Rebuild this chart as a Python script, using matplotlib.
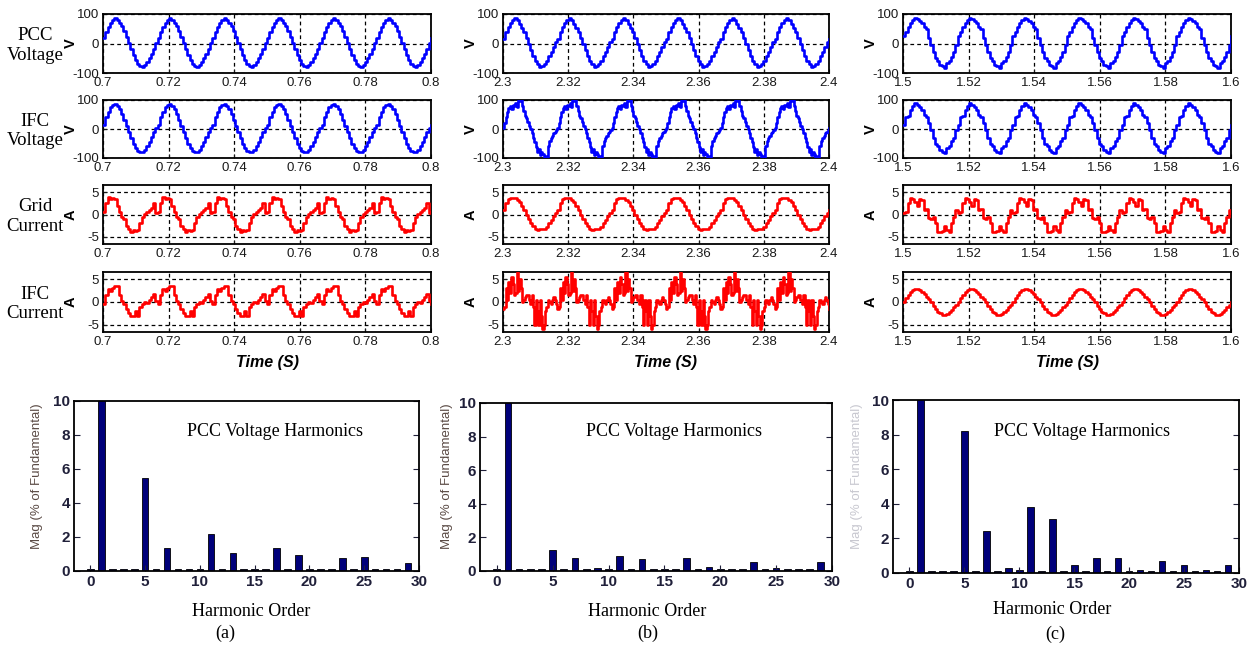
import numpy as np
import matplotlib
matplotlib.use('Agg')
import matplotlib.pyplot as plt

plt.rcParams['font.family'] = ['Liberation Sans', 'DejaVu Sans']
plt.rcParams['axes.unicode_minus'] = False

# ---- waveform data: one steady-state cycle per panel ----
t_start = [0.7, 2.3, 1.5]

pcc_v_a = [20, 38, 55, 68, 78, 85, 80, 70, 58, 42, 22, 2,
           -20, -38, -55, -68, -76, -78, -74, -62, -50, -35, -18, 2]
ifc_v_a = [15, 40, 60, 75, 82, 85, 80, 68, 52, 30, 10, -10,
           -30, -50, -65, -76, -80, -80, -72, -60, -45, -28, -10, 5]
grid_i_a = [0.5, 2.5, 4.0, 3.4, 3.6, 3.5, 2.0, 0.5, -0.5, -1.0, -2.5, -3.2,
            -4.0, -3.4, -3.8, -3.5, -2.0, -0.5, 0.2, 0.5, 1.0, 1.5, 2.5, 0.3]
ifc_i_a = [-0.5, 1.5, 2.8, 2.5, 3.0, 3.5, 3.5, 1.5, 0.2, -0.5, -1.5, -2.5,
           -3.0, -3.0, -2.0, -3.0, -1.2, -0.5, 0.0, -0.3, 0.5, 1.0, 1.8, 0.3]

pcc_v_b = [15, 38, 55, 70, 80, 85, 78, 65, 52, 38, 18, 0,
           -22, -42, -58, -70, -78, -75, -70, -58, -42, -28, -12, 5]
ifc_v_b = [5, 20, 40, 60, 72, 80, 70, 82, 78, 90, 75, 100, 95, 100, 80, 62, 45, 38, 25, 12,
           0, -15, -30, -45, -62, -78, -70, -88, -80, -85, -100, -92, -100, -60, -40, -30, -25, -15, -10, -3]
grid_i_b = [1.0, 2.5, 3.5, 3.7, 3.7, 3.6, 3.3, 2.8, 2.0, 1.0, 0.0, -1.0,
            -1.8, -2.6, -3.2, -3.4, -3.3, -3.3, -3.2, -2.8, -2.0, -1.2, -0.3, 0.3]
ifc_i_b = [-1.5, -1.0, 3.0, 0.5, 4.5, 2.0, 5.5, 4.0, 1.5, 2.0, 6.5, 2.5, 5.0, 3.0, 0.0, 0.5, 1.0, 1.5, 1.5, 0.5,
           -0.5, 1.5, -1.0, -5.0, 0.5, -2.0, -5.0, 0.5, -3.0, -6.0, -5.0, -2.0, -1.0, 0.5, 0.0, -0.5, 0.5, 1.0, 0.5, -0.5]

pcc_v_c = [25, 40, 55, 68, 80, 85, 82, 75, 68, 55, 48, 20,
           -5, -30, -50, -60, -72, -75, -82, -65, -58, -45, -30, -5]
ifc_v_c = [15, 40, 45, 65, 80, 88, 82, 75, 65, 50, 40, 20,
           -5, -30, -50, -60, -72, -80, -82, -65, -58, -40, -30, -5]
grid_i_c = [0.3, 0.5, 2.5, 3.8, 3.5, 2.8, 2.0, 3.5, 3.2, 1.0, 1.2, -0.8,
            -1.0, -0.5, -2.0, -4.0, -4.0, -3.8, -2.5, -3.5, -4.0, -2.0, -0.5, 1.0]
ifc_i_c = [0.0, 0.8, 1.5, 2.1, 2.6, 2.8, 2.9, 2.7, 2.3, 1.8, 1.2, 0.6,
           0.0, -0.8, -1.5, -2.1, -2.5, -2.8, -2.9, -2.7, -2.3, -1.8, -1.2, -0.6]

row_names = ['PCC\nVoltage', 'IFC\nVoltage', 'Grid\nCurrent', 'IFC\nCurrent']
row_units = ['V', 'V', 'A', 'A']

# ---- harmonic spectra (% of fundamental) ----
harm_order = list(range(30))
harm_a = [0.1, 100, 0.1, 0.1, 0.1, 5.45, 0.1, 1.35, 0.1, 0.1, 0.1, 2.2, 0.1, 1.05, 0.1,
          0.1, 0.1, 1.35, 0.1, 0.95, 0.1, 0.1, 0.1, 0.75, 0.1, 0.8, 0.1, 0.1, 0.1, 0.45]
harm_b = [0.1, 100, 0.1, 0.1, 0.1, 1.25, 0.1, 0.8, 0.1, 0.15, 0.1, 0.9, 0.1, 0.7, 0.1,
          0.1, 0.1, 0.8, 0.1, 0.25, 0.1, 0.1, 0.1, 0.55, 0.1, 0.2, 0.1, 0.1, 0.1, 0.55]
harm_c = [0.1, 100, 0.1, 0.1, 0.1, 8.2, 0.1, 2.45, 0.1, 0.3, 0.15, 3.8, 0.1, 3.1, 0.1,
          0.45, 0.1, 0.85, 0.1, 0.85, 0.1, 0.15, 0.1, 0.7, 0.1, 0.45, 0.1, 0.15, 0.1, 0.45]

W, H = 1248, 651
fig = plt.figure(figsize=(W / 100, H / 100), dpi=100)
fig.patch.set_facecolor('white')


def px_axes(x0, y0, x1, y1):
    # pixel box (top-left origin) -> figure axes
    return fig.add_axes([x0 / W, 1 - y1 / H, (x1 - x0) / W, (y1 - y0) / H])


waves = [[pcc_v_a, ifc_v_a, grid_i_a, ifc_i_a],
         [pcc_v_b, ifc_v_b, grid_i_b, ifc_i_b],
         [pcc_v_c, ifc_v_c, grid_i_c, ifc_i_c]]
col_x = [(103, 431), (503, 829), (903, 1231)]
row_y = [(14, 73), (100, 158), (185, 244), (272, 332)]
tick_col = '#1a1a1a'

for c in range(3):
    x0, x1 = col_x[c]
    t0 = t_start[c]
    for r in range(4):
        y0, y1 = row_y[r]
        ax = px_axes(x0, y0, x1, y1)
        cyc = waves[c][r]
        y = np.append(np.tile(cyc, 6), cyc[0])
        t = t0 + np.arange(len(y)) / (60.0 * len(cyc))
        color = '#0000ff' if r < 2 else '#ff0000'
        ax.plot(t, y, color=color, lw=1.9, drawstyle='steps-post', zorder=3)
        ax.set_xlim(t0, t0 + 0.1)
        xt = np.round(np.linspace(t0, t0 + 0.1, 6), 2)
        ax.set_xticks(xt)
        ax.set_xticklabels(['%g' % v for v in xt])
        if r < 2:
            ax.set_ylim(-100, 100)
            ax.set_yticks([-100, 0, 100])
        else:
            ax.set_ylim(-6.6, 6.6)
            ax.set_yticks([-5, 0, 5])
        ax.grid(True, color='black', linestyle=(0, (3, 2.5)), lw=0.9)
        ax.tick_params(direction='in', length=3, labelsize=9.5, colors=tick_col, pad=3)
        for s in ax.spines.values():
            s.set_linewidth(1.3)
        ax.set_ylabel(row_units[r], fontsize=10.5, fontweight='bold')
        ax.yaxis.set_label_coords(-25.0 / (x1 - x0), 0.5)
        if c == 0:
            fig.text(35 / W, 1 - ((y0 + y1) / 2 + 2) / H, row_names[r], ha='center', va='center',
                     fontsize=13.5, family='Liberation Serif', linespacing=1.2)
    fig.text((x0 + x1) / 2 / W, 1 - 362 / H, 'Time (S)', ha='center', va='center',
             fontsize=11.5, fontweight='bold', style='italic')

# ---- harmonic bar charts ----
bar_box = [(74, 401, 419, 571), (480, 403, 832, 571), (893, 400, 1239, 573)]
harms = [harm_a, harm_b, harm_c]
title_pos = [(275, 432), (674, 431), (1082, 432)]
xlab_pos = [(251, 611), (647, 611), (1052, 610)]
tag_pos = [(225, 633), (648, 633), (1055, 634)]
ylab_x = [37, 447, 857]
tags = ['(a)', '(b)', '(c)']
for c in range(3):
    ax = px_axes(*bar_box[c])
    ax.bar(harm_order, harms[c], width=0.6, color='#00007a', edgecolor='black', lw=0.6)
    ax.set_xlim(-1.5, 30)
    ax.set_ylim(0, 10)
    ax.set_xticks([0, 5, 10, 15, 20, 25, 30])
    ax.set_yticks([0, 2, 4, 6, 8, 10])
    ax.tick_params(direction='in', length=4, labelsize=11, colors='#20203a', pad=3,
                   right=True, top=False)
    for lab in ax.get_xticklabels() + ax.get_yticklabels():
        lab.set_fontweight('bold')
    for s in ax.spines.values():
        s.set_linewidth(1.3)
    ax.text((title_pos[c][0] - bar_box[c][0]) / (bar_box[c][2] - bar_box[c][0]),
            1 - (title_pos[c][1] - bar_box[c][1]) / (bar_box[c][3] - bar_box[c][1]),
            'PCC Voltage Harmonics', transform=ax.transAxes, ha='center', va='center',
            fontsize=13, family='Liberation Serif')
    fig.text(xlab_pos[c][0] / W, 1 - xlab_pos[c][1] / H, 'Harmonic Order', ha='center',
             va='center', fontsize=13, family='Liberation Serif')
    fig.text(tag_pos[c][0] / W, 1 - tag_pos[c][1] / H, tags[c], ha='center', va='center',
             fontsize=13, family='Liberation Serif')
    ylab_col = '#5a4a44' if c < 2 else '#c8c8d0'
    fig.text(ylab_x[c] / W, 1 - 476 / H, 'Mag (% of Fundamental)', rotation=90,
             ha='center', va='center', fontsize=9.5, color=ylab_col)

fig.savefig('out.png', dpi=100)
